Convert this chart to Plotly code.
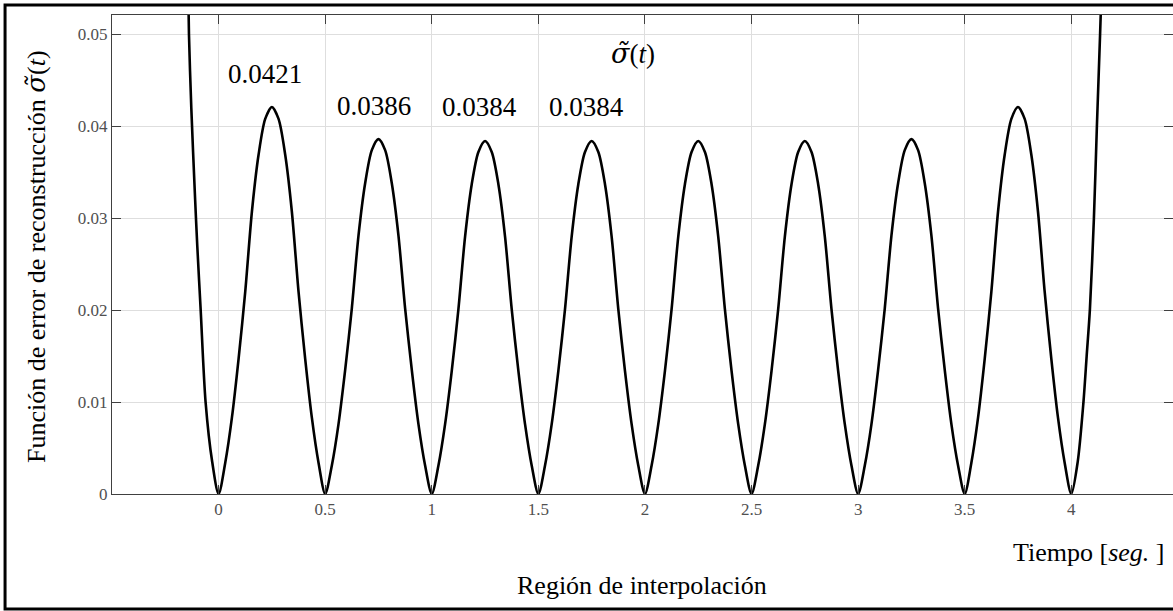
import plotly.graph_objects as go

# ---- data ----
t = [-0.146, -0.139, -0.128, -0.110, -0.100, -0.084, -0.061, -0.030,
     0.0, 0.03125, 0.0625, 0.09375, 0.125, 0.15625, 0.1875, 0.21875, 0.25,
     0.28125, 0.3125, 0.34375, 0.375, 0.40625, 0.4375, 0.46875, 0.5,
     0.53125, 0.5625, 0.59375, 0.625, 0.65625, 0.6875, 0.71875, 0.75,
     0.78125, 0.8125, 0.84375, 0.875, 0.90625, 0.9375, 0.96875, 1.0,
     1.03125, 1.0625, 1.09375, 1.125, 1.15625, 1.1875, 1.21875, 1.25,
     1.28125, 1.3125, 1.34375, 1.375, 1.40625, 1.4375, 1.46875, 1.5,
     1.53125, 1.5625, 1.59375, 1.625, 1.65625, 1.6875, 1.71875, 1.75,
     1.78125, 1.8125, 1.84375, 1.875, 1.90625, 1.9375, 1.96875, 2.0,
     2.03125, 2.0625, 2.09375, 2.125, 2.15625, 2.1875, 2.21875, 2.25,
     2.28125, 2.3125, 2.34375, 2.375, 2.40625, 2.4375, 2.46875, 2.5,
     2.53125, 2.5625, 2.59375, 2.625, 2.65625, 2.6875, 2.71875, 2.75,
     2.78125, 2.8125, 2.84375, 2.875, 2.90625, 2.9375, 2.96875, 3.0,
     3.03125, 3.0625, 3.09375, 3.125, 3.15625, 3.1875, 3.21875, 3.25,
     3.28125, 3.3125, 3.34375, 3.375, 3.40625, 3.4375, 3.46875, 3.5,
     3.53125, 3.5625, 3.59375, 3.625, 3.65625, 3.6875, 3.71875, 3.75,
     3.78125, 3.8125, 3.84375, 3.875, 3.90625, 3.9375, 3.96875, 4.0,
     4.030, 4.057, 4.072, 4.087, 4.106, 4.120, 4.135, 4.146]

sigma = [0.060, 0.050, 0.042, 0.032, 0.027, 0.020, 0.010, 0.0035,
         0.0, 0.0034, 0.0083, 0.0147, 0.0220, 0.0307, 0.0369, 0.0408, 0.0421,
         0.0408, 0.0369, 0.0307, 0.0220, 0.0147, 0.0083, 0.0034, 0.0,
         0.0031, 0.0076, 0.0135, 0.0202, 0.0281, 0.0338, 0.0374, 0.0386,
         0.0374, 0.0338, 0.0281, 0.0202, 0.0135, 0.0076, 0.0031, 0.0,
         0.0031, 0.0076, 0.0134, 0.0201, 0.0280, 0.0337, 0.0372, 0.0384,
         0.0372, 0.0337, 0.0280, 0.0201, 0.0134, 0.0076, 0.0031, 0.0,
         0.0031, 0.0076, 0.0134, 0.0201, 0.0280, 0.0337, 0.0372, 0.0384,
         0.0372, 0.0337, 0.0280, 0.0201, 0.0134, 0.0076, 0.0031, 0.0,
         0.0031, 0.0076, 0.0134, 0.0201, 0.0280, 0.0337, 0.0372, 0.0384,
         0.0372, 0.0337, 0.0280, 0.0201, 0.0134, 0.0076, 0.0031, 0.0,
         0.0031, 0.0076, 0.0134, 0.0201, 0.0280, 0.0337, 0.0372, 0.0384,
         0.0372, 0.0337, 0.0280, 0.0201, 0.0134, 0.0076, 0.0031, 0.0,
         0.0031, 0.0076, 0.0135, 0.0202, 0.0281, 0.0338, 0.0374, 0.0386,
         0.0374, 0.0338, 0.0281, 0.0202, 0.0135, 0.0076, 0.0031, 0.0,
         0.0034, 0.0083, 0.0147, 0.0220, 0.0307, 0.0369, 0.0408, 0.0421,
         0.0408, 0.0369, 0.0307, 0.0220, 0.0147, 0.0083, 0.0034, 0.0,
         0.0035, 0.010, 0.015, 0.020, 0.030, 0.040, 0.050, 0.058]

x_tickvals = [0, 0.5, 1, 1.5, 2, 2.5, 3, 3.5, 4]
x_ticktext = ["0", "0.5", "1", "1.5", "2", "2.5", "3", "3.5", "4"]
y_tickvals = [0, 0.01, 0.02, 0.03, 0.04, 0.05]
y_ticktext = ["0", "0.01", "0.02", "0.03", "0.04", "0.05"]

peak_t = [0.220, 0.727, 1.224, 1.726]
peak_y = [0.04565, 0.04217, 0.04207, 0.04207]
peak_labels = ["0.0421", "0.0386", "0.0384", "0.0384"]

SERIF = "Liberation Serif, Times New Roman, serif"
SIGMA = "<span style='font-family:DejaVu Serif'><i>σ̃</i></span>(<i>t</i>)"

fig = go.Figure()
fig.add_trace(go.Scatter(
    x=t, y=sigma, mode="lines",
    line=dict(color="black", width=2.6, shape="spline", smoothing=0.8),
    hoverinfo="skip", showlegend=False,
))

for xv, yv, txt in zip(peak_t, peak_y, peak_labels):
    fig.add_annotation(x=xv, y=yv, xref="x", yref="y", text=txt, showarrow=False,
                       font=dict(family=SERIF, size=27, color="black"),
                       xanchor="center", yanchor="middle")

fig.add_annotation(x=1.942, y=0.0479, xref="x", yref="y",
                   text=SIGMA, showarrow=False,
                   font=dict(family=SERIF, size=27, color="black"),
                   xanchor="center", yanchor="middle")

# axis titles
fig.add_annotation(x=0.4995, y=-0.190, xref="paper", yref="paper",
                   text="Región de interpolación", showarrow=False,
                   font=dict(family=SERIF, size=26, color="black"),
                   xanchor="center", yanchor="middle")
fig.add_annotation(x=0.9934, y=-0.123, xref="paper", yref="paper",
                   text="Tiempo [<i>seg.</i> ]", showarrow=False,
                   font=dict(family=SERIF, size=26, color="black"),
                   xanchor="right", yanchor="middle")
fig.add_annotation(x=-0.0716, y=0.4948, xref="paper", yref="paper",
                   text="Función de error de reconstrucción " + SIGMA,
                   textangle=-90, showarrow=False,
                   font=dict(family=SERIF, size=26, color="black"),
                   xanchor="center", yanchor="middle")

# outer frame
fig.add_shape(type="rect", xref="paper", yref="paper",
              x0=-0.1008, x1=1.02, y0=-0.240, y1=1.0209,
              line=dict(color="black", width=3), fillcolor="rgba(0,0,0,0)")

fig.update_xaxes(range=[-0.5, 4.477], tickvals=x_tickvals, ticktext=x_ticktext,
                 showgrid=True, gridcolor="#dedede", gridwidth=1,
                 showline=True, linecolor="#404040", linewidth=1, mirror="ticks",
                 ticks="inside", ticklen=9, tickcolor="#404040",
                 tickfont=dict(family=SERIF, size=17, color="#505050"),
                 zeroline=False, fixedrange=True)
fig.update_yaxes(range=[0, 0.0521], tickvals=y_tickvals, ticktext=y_ticktext,
                 showgrid=True, gridcolor="#dedede", gridwidth=1,
                 showline=True, linecolor="#404040", linewidth=1, mirror="ticks",
                 ticks="inside", ticklen=9, tickcolor="#404040",
                 tickfont=dict(family=SERIF, size=17, color="#505050"),
                 zeroline=False, fixedrange=True)

fig.update_layout(width=1173, height=611,
                  margin=dict(l=112, r=0, t=15, b=117),
                  paper_bgcolor="white", plot_bgcolor="white",
                  showlegend=False)

fig.write_html("out.html",
               config={"displayModeBar": False},
               post_script="document.body.style.margin='0';document.body.style.overflow='hidden';")
